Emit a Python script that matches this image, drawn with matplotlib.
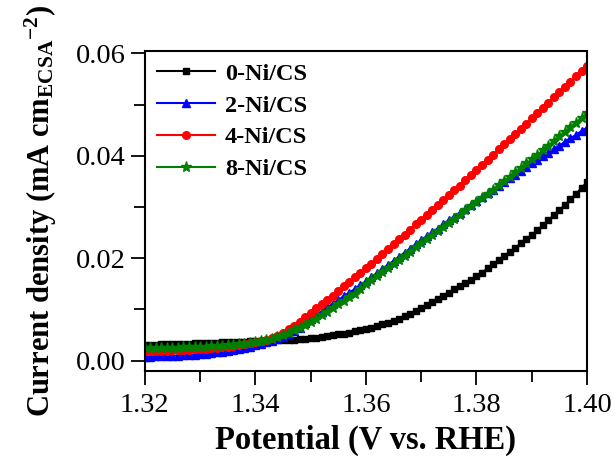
import numpy as np
import matplotlib
matplotlib.use("Agg")
import matplotlib.pyplot as plt

# Potentials, 1 mV steps from 1.320 to 1.400 V vs RHE
potential = np.round(np.arange(1.320, 1.4005, 0.001), 3)

labels = ['0-Ni/CS', '2-Ni/CS', '4-Ni/CS', '8-Ni/CS']

j_0ni = [0.0031, 0.0031, 0.0031, 0.0032, 0.0032, 0.0032, 0.0033, 0.0033, 0.0033, 0.0034,
         0.0034, 0.0034, 0.0035, 0.0035, 0.0036, 0.0036, 0.0036, 0.0037, 0.0037, 0.0038,
         0.0038, 0.0039, 0.0039, 0.0039, 0.0040, 0.0040, 0.0041, 0.0041, 0.0042, 0.0043,
         0.0044, 0.0045, 0.0047, 0.0048, 0.0050, 0.0052, 0.0053, 0.0055, 0.0057, 0.0059,
         0.0061, 0.0064, 0.0067, 0.0071, 0.0074, 0.0078, 0.0082, 0.0087, 0.0092, 0.0097,
         0.0103, 0.0108, 0.0114, 0.0120, 0.0126, 0.0133, 0.0139, 0.0145, 0.0152, 0.0158,
         0.0165, 0.0172, 0.0180, 0.0188, 0.0196, 0.0204, 0.0212, 0.0220, 0.0229, 0.0237,
         0.0246, 0.0255, 0.0264, 0.0274, 0.0284, 0.0294, 0.0304, 0.0315, 0.0326, 0.0337,
         0.0349]

j_2ni = [0.0008, 0.0008, 0.0009, 0.0009, 0.0009, 0.0010, 0.0010, 0.0011, 0.0011, 0.0012,
         0.0013, 0.0014, 0.0015, 0.0016, 0.0017, 0.0019, 0.0020, 0.0022, 0.0024, 0.0027,
         0.0031, 0.0033, 0.0036, 0.0039, 0.0043, 0.0047, 0.0052, 0.0058, 0.0064, 0.0073,
         0.0082, 0.0089, 0.0096, 0.0104, 0.0111, 0.0118, 0.0126, 0.0133, 0.0140, 0.0148,
         0.0155, 0.0163, 0.0171, 0.0179, 0.0187, 0.0195, 0.0203, 0.0211, 0.0219, 0.0227,
         0.0235, 0.0243, 0.0251, 0.0258, 0.0266, 0.0274, 0.0281, 0.0289, 0.0297, 0.0304,
         0.0312, 0.0319, 0.0327, 0.0334, 0.0341, 0.0349, 0.0356, 0.0363, 0.0370, 0.0378,
         0.0385, 0.0392, 0.0399, 0.0406, 0.0413, 0.0420, 0.0427, 0.0434, 0.0441, 0.0448,
         0.0455]

j_4ni = [0.0018, 0.0018, 0.0019, 0.0019, 0.0019, 0.0020, 0.0020, 0.0021, 0.0021, 0.0022,
         0.0023, 0.0023, 0.0024, 0.0025, 0.0026, 0.0027, 0.0029, 0.0030, 0.0032, 0.0034,
         0.0037, 0.0039, 0.0041, 0.0044, 0.0049, 0.0055, 0.0061, 0.0068, 0.0076, 0.0085,
         0.0094, 0.0102, 0.0111, 0.0119, 0.0127, 0.0136, 0.0145, 0.0154, 0.0163, 0.0172,
         0.0180, 0.0189, 0.0199, 0.0208, 0.0218, 0.0227, 0.0237, 0.0246, 0.0256, 0.0266,
         0.0275, 0.0285, 0.0294, 0.0304, 0.0313, 0.0323, 0.0333, 0.0342, 0.0352, 0.0362,
         0.0372, 0.0382, 0.0392, 0.0402, 0.0413, 0.0423, 0.0433, 0.0443, 0.0453, 0.0463,
         0.0473, 0.0484, 0.0494, 0.0504, 0.0514, 0.0524, 0.0534, 0.0544, 0.0555, 0.0565,
         0.0575]

j_8ni = [0.0024, 0.0024, 0.0024, 0.0024, 0.0025, 0.0025, 0.0025, 0.0026, 0.0026, 0.0026,
         0.0027, 0.0027, 0.0028, 0.0028, 0.0029, 0.0030, 0.0031, 0.0032, 0.0033, 0.0035,
         0.0036, 0.0038, 0.0040, 0.0043, 0.0046, 0.0050, 0.0054, 0.0059, 0.0064, 0.0070,
         0.0076, 0.0082, 0.0089, 0.0096, 0.0103, 0.0110, 0.0117, 0.0124, 0.0131, 0.0140,
         0.0149, 0.0157, 0.0165, 0.0173, 0.0181, 0.0189, 0.0197, 0.0205, 0.0213, 0.0221,
         0.0229, 0.0237, 0.0245, 0.0253, 0.0261, 0.0269, 0.0277, 0.0285, 0.0294, 0.0302,
         0.0310, 0.0318, 0.0326, 0.0334, 0.0343, 0.0351, 0.0359, 0.0368, 0.0376, 0.0385,
         0.0393, 0.0402, 0.0411, 0.0420, 0.0429, 0.0438, 0.0447, 0.0456, 0.0465, 0.0474,
         0.0483]

plt.rcParams['font.family'] = 'Liberation Serif'
plt.rcParams['mathtext.fontset'] = 'custom'
plt.rcParams['mathtext.rm'] = 'Liberation Serif:bold'
plt.rcParams['mathtext.it'] = 'Liberation Serif:bold'
plt.rcParams['mathtext.bf'] = 'Liberation Serif:bold'

fig = plt.figure(figsize=(6.16, 4.66), dpi=100)
ax = fig.add_axes([0.235, 0.204, 0.718, 0.687])

ax.plot(potential, j_0ni, color='black', marker='s', markersize=5, lw=1.5, label=labels[0])
ax.plot(potential, j_2ni, color='blue', marker='^', markersize=5.5, lw=1.5, label=labels[1])
ax.plot(potential, j_4ni, color='red', marker='o', markersize=5.5, lw=1.5, label=labels[2])
ax.plot(potential, j_8ni, color='green', marker='*', markersize=8, lw=1.5, label=labels[3])

ax.set_xlim(1.32, 1.40)
ax.set_ylim(-0.002, 0.0605)
ax.set_xticks([1.32, 1.34, 1.36, 1.38, 1.40])
ax.set_xticks([1.33, 1.35, 1.37, 1.39], minor=True)
ax.set_yticks([0.00, 0.02, 0.04, 0.06])
ax.set_yticks([0.01, 0.03, 0.05], minor=True)
ax.xaxis.set_major_formatter(matplotlib.ticker.FormatStrFormatter('%.2f'))
ax.yaxis.set_major_formatter(matplotlib.ticker.FormatStrFormatter('%.2f'))

ax.tick_params(which='major', direction='out', length=10, width=1.3, labelsize=20.5)
ax.tick_params(which='minor', direction='out', length=8, width=1.3)
ax.tick_params(axis='x', pad=6)
for s in ax.spines.values():
    s.set_linewidth(1.5)

ax.set_xlabel('Potential (V vs. RHE)', fontsize=23.5, fontweight='bold', labelpad=5)
ax.set_ylabel(r'Current density (mA cm$_{\mathrm{ECSA}}$$^{-2}$)', fontsize=22,
              fontweight='bold', labelpad=12)

ax.legend(loc='upper left', frameon=False, prop={'size': 17.5, 'weight': 'bold'},
          handlelength=2.4, labelspacing=0.4, borderaxespad=0.1, handletextpad=0.4)

fig.savefig('out.png', dpi=100)
